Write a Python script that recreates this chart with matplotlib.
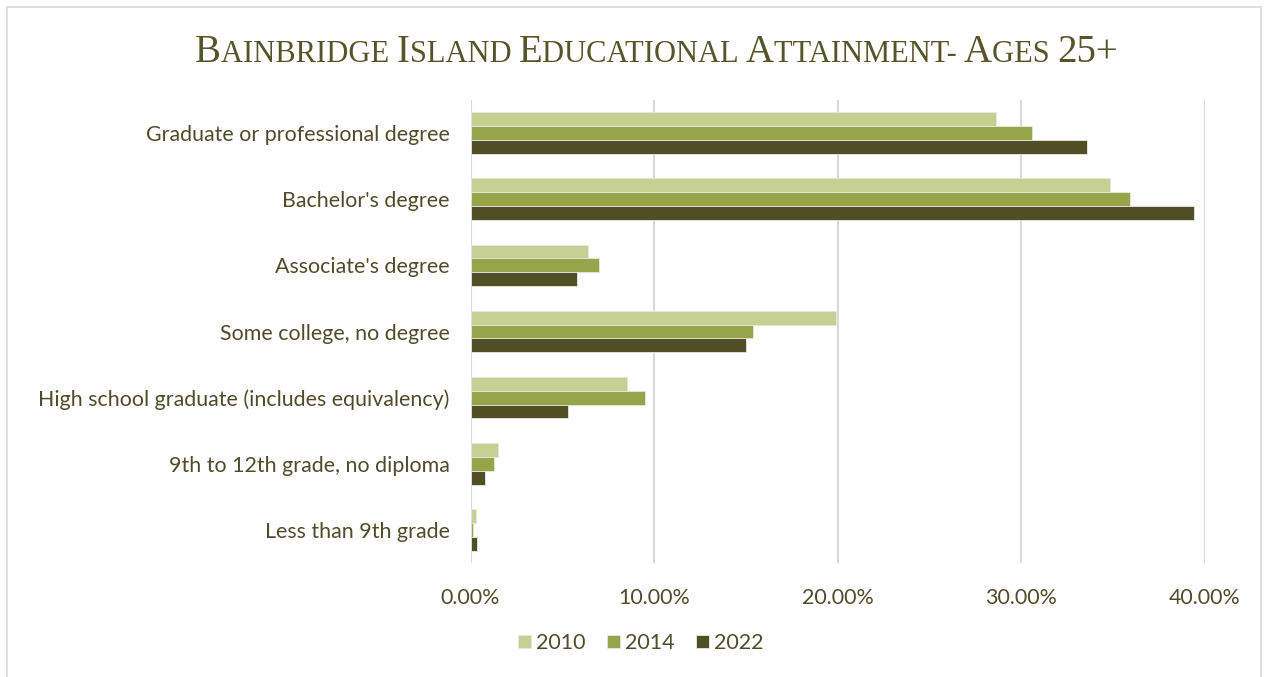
import matplotlib
matplotlib.use("Agg")
import matplotlib.pyplot as plt
from matplotlib.patches import Rectangle
import numpy as np

# Educational attainment, population aged 25+ (share of residents)
categories = [
    "Graduate or professional degree",
    "Bachelor's degree",
    "Associate's degree",
    "Some college, no degree",
    "High school graduate (includes equivalency)",
    "9th to 12th grade, no diploma",
    "Less than 9th grade",
]
years = ["2010", "2014", "2022"]
share_2010 = [0.286, 0.348, 0.064, 0.199, 0.085, 0.015, 0.003]
share_2014 = [0.306, 0.359, 0.070, 0.154, 0.095, 0.013, 0.0016]
share_2022 = [0.336, 0.394, 0.058, 0.150, 0.053, 0.008, 0.0033]
x_ticks = [0.0, 0.1, 0.2, 0.3, 0.4]
x_tick_labels = ["0.00%", "10.00%", "20.00%", "30.00%", "40.00%"]

series = [share_2010, share_2014, share_2022]
colors = ["#c5d092", "#95a547", "#514f26"]
text_color = "#4f4c2b"
title_color = "#55552c"
label_font = {"family": "Lato", "size": 15.4, "weight": "normal"}

W, H = 1266, 677
fig = plt.figure(figsize=(W / 100, H / 100), dpi=100)
fig.patch.set_facecolor("white")

# light frame around the chart area
fig.patches.append(Rectangle((7 / W, -0.01), 1254 / W, 1 - 7 / H + 0.01,
                             transform=fig.transFigure, fill=False,
                             edgecolor="#d9d9d9", linewidth=1.2))

ax = fig.add_axes([470.5 / W, 1 - 563 / H, 734.5 / W, 463 / H])
y = np.arange(len(categories))
bar_h = 0.21
for k, (vals, col, lab) in enumerate(zip(series, colors, years)):
    ax.barh(y + (k - 1) * bar_h, vals, height=bar_h, color=col, label=lab,
            edgecolor="#e8e8e8", linewidth=0.6, zorder=3)

ax.set_xlim(0, 0.40)
ax.set_ylim(len(categories) - 0.5, -0.5)
ax.set_xticks(x_ticks)
ax.set_xticklabels(x_tick_labels, fontdict=label_font, color=text_color)
ax.set_yticks(y)
ax.set_yticklabels(categories, fontdict=label_font, color=text_color)
ax.grid(axis="x", color="#d9d9d9", linewidth=1.5, zorder=0)
ax.set_axisbelow(True)
for s in ax.spines.values():
    s.set_visible(False)
ax.tick_params(axis="both", length=0)
ax.tick_params(axis="y", pad=15)
ax.tick_params(axis="x", pad=18)

# Legend
leg = fig.legend(loc="center", bbox_to_anchor=(641 / W, 1 - 643 / H), ncol=3,
                 frameon=False, handlelength=0.6, handleheight=0.6,
                 handletextpad=0.25, columnspacing=1.0,
                 prop={"family": "Lato", "size": 15.4})
for t in leg.get_texts():
    t.set_color(text_color)

# Title in small capitals: first letters full size, the rest reduced
pieces = [("B", 1), ("AINBRIDGE ", 0), ("I", 1), ("SLAND ", 0), ("E", 1),
          ("DUCATIONAL ", 0), ("A", 1), ("TTAINMENT- ", 0), ("A", 1),
          ("GES ", 0), ("25+", 1)]
big, small = 28, 22
renderer = fig.canvas.get_renderer()
texts = []
widths = []
for s, is_big in pieces:
    t = fig.text(0, 0, s, fontsize=big if is_big else small,
                 family="Liberation Serif", color=title_color,
                 transform=None, va="baseline", ha="left")
    widths.append(t.get_window_extent(renderer).width)
    texts.append(t)
total = sum(widths)
x0 = 656.5 - total / 2
base = H - 62
for t, w in zip(texts, widths):
    t.set_position((x0, base))
    x0 += w

fig.savefig("out.png", dpi=100, facecolor="white")
